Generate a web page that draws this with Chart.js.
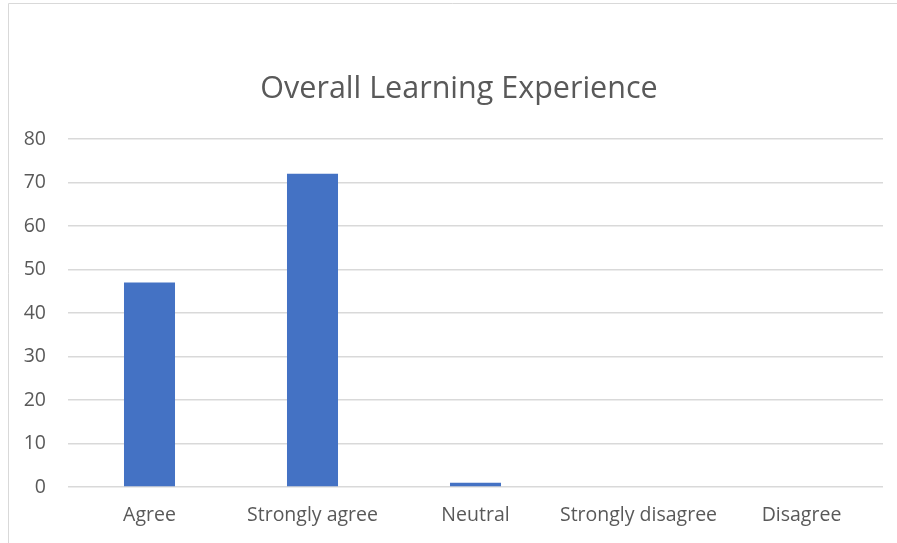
<!DOCTYPE html>
<html>
<head>
<meta charset="utf-8">
<script src="https://cdn.jsdelivr.net/npm/chart.js@4/dist/chart.umd.min.js"></script>
<style>
  html, body { margin: 0; padding: 0; background: #fff; }
  #wrap { position: relative; width: 897px; height: 543px; }
</style>
</head>
<body>
<div id="wrap"><canvas id="chart" width="897" height="543"></canvas></div>
<script>
const categories = ['Agree', 'Strongly agree', 'Neutral', 'Strongly disagree', 'Disagree'];
const responses = [47, 72, 1, 0, 0];
const yTicks = [0, 10, 20, 30, 40, 50, 60, 70, 80];
const chartTitle = 'Overall Learning Experience';

const textColor = '#595959';
const gridColor = '#d9d9d9';
const fontFamily = '"Open Sans", "Noto Sans", sans-serif';

// outer frame (picture is cropped, only top and left edges show) + title
const framePlugin = {
    id: 'frame',
    beforeDraw(chart) {
        const ctx = chart.ctx;
        ctx.save();
        ctx.strokeStyle = gridColor;
        ctx.lineWidth = 1;
        ctx.beginPath();
        ctx.moveTo(8.5, 543);
        ctx.lineTo(8.5, 3.5);
        ctx.lineTo(897, 3.5);
        ctx.stroke();

        ctx.fillStyle = textColor;
        ctx.font = '30.5px ' + fontFamily;
        ctx.textAlign = 'center';
        ctx.textBaseline = 'alphabetic';
        ctx.fillText(chartTitle, 459, 98);
        ctx.restore();
    }
};

new Chart(document.getElementById('chart'), {
    type: 'bar',
    data: {
        labels: categories,
        datasets: [{
            label: chartTitle,
            data: responses,
            backgroundColor: '#4472c4',
            categoryPercentage: 1,
            barPercentage: 0.313
        }]
    },
    options: {
        responsive: false,
        animation: false,
        layout: { padding: { left: 8, right: 14, top: 139, bottom: 0 } },
        plugins: {
            legend: { display: false },
            tooltip: { enabled: false },
            title: { display: false }
        },
        scales: {
            x: {
                grid: { display: false, drawTicks: false },
                border: { display: false },
                ticks: { color: textColor, font: { family: fontFamily, size: 19.5 }, padding: 17, maxRotation: 0 },
                afterFit(scale) { scale.height = 56; }
            },
            y: {
                min: 0,
                max: 80,
                afterBuildTicks(scale) { scale.ticks = yTicks.map(v => ({ value: v })); },
                grid: { color: gridColor, lineWidth: 1.5, drawTicks: false },
                border: { display: false },
                ticks: { color: textColor, font: { family: fontFamily, size: 19.5 }, padding: 22 },
                afterFit(scale) { scale.width = 60; }
            }
        }
    },
    plugins: [framePlugin]
});
</script>
</body>
</html>
